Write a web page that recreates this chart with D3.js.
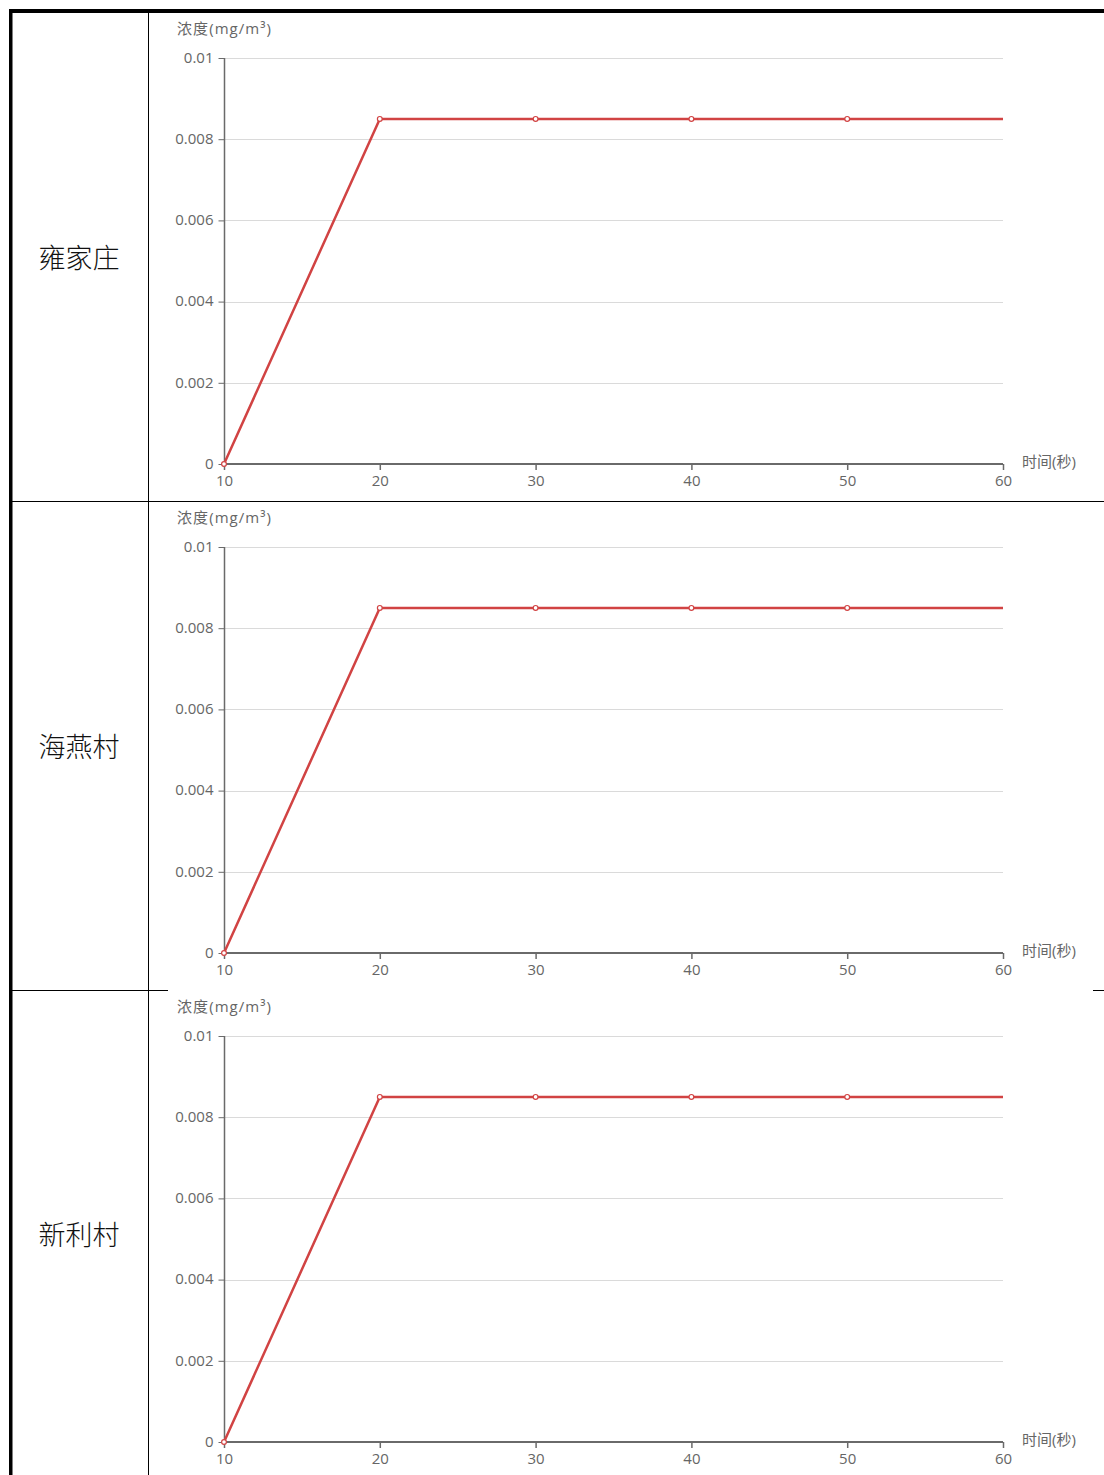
<!DOCTYPE html>
<html><head><meta charset="utf-8">
<script src="https://cdn.jsdelivr.net/npm/d3@7/dist/d3.min.js"></script>
<style>body{margin:0;background:#fff}svg{display:block}</style>
</head><body>
<svg id="c" width="1104" height="1475"></svg>
<script>
const places = ["雍家庄", "海燕村", "新利村"];
const times = [10, 20, 30, 40, 50, 60];
const concentration = [0, 0.0085, 0.0085, 0.0085, 0.0085, 0.0085];
const yTicks = [0, 0.002, 0.004, 0.006, 0.008, 0.01];
const yTickLabels = ["0", "0.002", "0.004", "0.006", "0.008", "0.01"];
const xTicks = [10, 20, 30, 40, 50, 60];
const yName = "浓度(mg/m³)";
const xName = "时间(秒)";

const svg = d3.select("#c");
const rowTop = 12, rowH = 489;
const font = "'Open Sans','Noto Sans CJK SC',sans-serif";
const axisColor = "#6a6a6a";
const textColor = "#666";

svg.append("line").attr("x1",148.5).attr("x2",148.5).attr("y1",11).attr("y2",1475).attr("stroke","#000").attr("stroke-width",1);
svg.append("line").attr("x1",12).attr("x2",1104).attr("y1",501.5).attr("y2",501.5).attr("stroke","#000").attr("stroke-width",1);
svg.append("line").attr("x1",12).attr("x2",1104).attr("y1",990.5).attr("y2",990.5).attr("stroke","#000").attr("stroke-width",1);

const data = times.map((t,i)=>({t, v: concentration[i]}));

places.forEach((p, r) => {
  const top = rowTop + r*rowH;
  if (r === 2) svg.append("rect").attr("x",168).attr("y",top-8).attr("width",925).attr("height",20).attr("fill","#fff");
  svg.append("text").attr("x",79).attr("y",top+244+(r===2?-1:0)).attr("text-anchor","middle").attr("dominant-baseline","central")
    .attr("font-family","'Noto Sans CJK SC',serif").attr("font-size",27).attr("font-weight",300).attr("fill","#111").text(p);

  const x = d3.scaleLinear().domain([10,60]).range([224,1003]);
  const y = d3.scaleLinear().domain([0,0.01]).range([top+452, top+46]);

  const g = svg.append("g");
  g.selectAll(".grid").data(yTicks.slice(1)).enter().append("line")
    .attr("x1",224).attr("x2",1003).attr("y1",d=>Math.round(y(d))+0.5).attr("y2",d=>Math.round(y(d))+0.5)
    .attr("stroke","#DADADA").attr("stroke-width",1);

  const ya = g.append("g").attr("transform","translate(224.5,0)")
    .call(d3.axisLeft(y).tickValues(yTicks).tickFormat((d,i)=>yTickLabels[i]).tickSize(6).tickPadding(5));
  ya.select(".domain").attr("stroke",axisColor).attr("stroke-width",1.5).attr("d",`M0,${y(0)}V${y(0.01)}`);
  ya.selectAll(".tick line").attr("stroke",axisColor);
  ya.selectAll("text").attr("fill",textColor).attr("font-family",font).attr("font-size",15).attr("dy","0.28em");

  const xa = g.append("g").attr("transform",`translate(0,${y(0)})`)
    .call(d3.axisBottom(x).tickValues(xTicks).tickFormat(d3.format("d")).tickSize(6).tickPadding(8));
  xa.select(".domain").attr("stroke",axisColor).attr("stroke-width",2).attr("d",`M224,0H1003`);
  xa.selectAll(".tick line").attr("stroke",axisColor).attr("stroke-width",1.5);
  xa.selectAll("text").attr("fill",textColor).attr("font-family",font).attr("font-size",15).attr("dy","0.55em");

  g.append("text").attr("x",177).attr("y",top+22).attr("fill",textColor).attr("font-family",font).attr("font-size",15).attr("textLength",94).text(yName);
  g.append("text").attr("x",1022).attr("y",y(0)+3).attr("fill",textColor).attr("font-family",font).attr("font-size",15).text(xName);

  g.append("path").datum(data).attr("fill","none").attr("stroke","#D14343").attr("stroke-width",2.5)
    .attr("d", d3.line().x(d=>x(d.t)).y(d=>y(d.v)));
  g.selectAll(".pt").data(data.filter(d=>d.t<60)).enter().append("circle")
    .attr("cx",d=>x(d.t)).attr("cy",d=>y(d.v)).attr("r",2.4)
    .attr("fill","#fff").attr("stroke","#D14343").attr("stroke-width",1.2);
});

svg.append("rect").attr("x",9).attr("y",9).attr("width",1095).attr("height",4).attr("fill","#000");
svg.append("rect").attr("x",9).attr("y",9).attr("width",3.5).attr("height",1466).attr("fill","#000");
</script>
</body></html>
